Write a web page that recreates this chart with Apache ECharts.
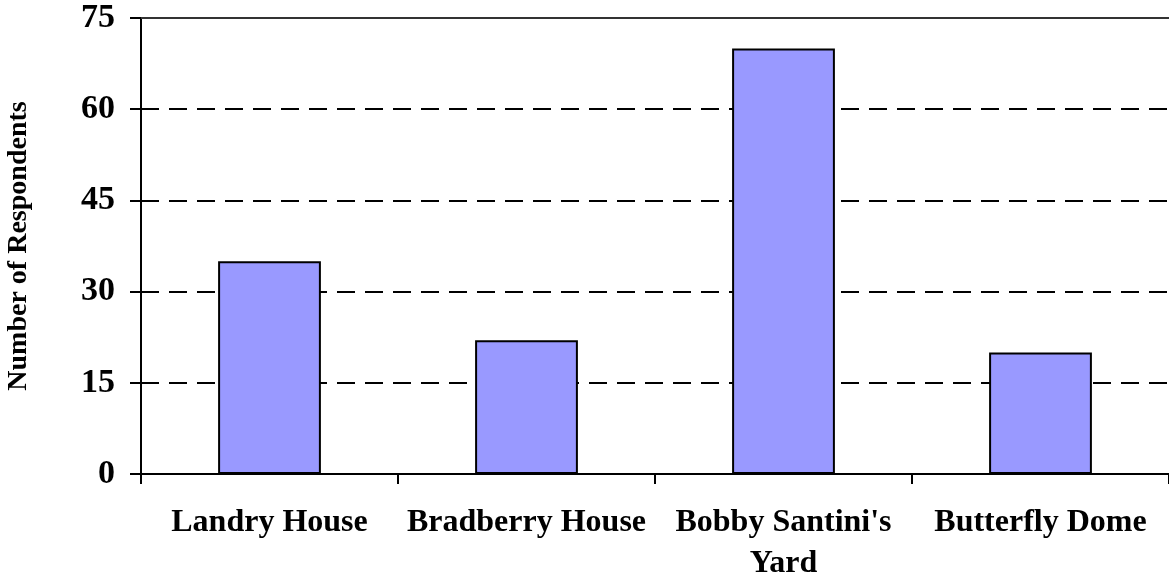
<!DOCTYPE html>
<html>
<head>
<meta charset="utf-8">
<script src="https://cdn.jsdelivr.net/npm/echarts@6/dist/echarts.min.js"></script>
<style>
  html, body { margin: 0; padding: 0; background: #fff; }
  #chart { width: 1169px; height: 582px; }
</style>
</head>
<body>
<div id="chart"></div>
<script>
// data
const categories = ["Landry House", "Bradberry House", "Bobby Santini's\nYard", "Butterfly Dome"];
const respondents = [35, 22, 70, 20];
const yTicks = [0, 15, 30, 45, 60, 75];

const serif = '"Liberation Serif", "Times New Roman", serif';

const myChart = echarts.init(document.getElementById("chart"));
const options = {
  backgroundColor: "#ffffff",
  animation: false,
  grid: {
    left: 141,
    right: 0,
    top: 18,
    bottom: 108,
    containLabel: false,
    outerBoundsMode: "none",
  },
  xAxis: [
    {
      type: "category",
      data: categories,
      axisLine: { lineStyle: { color: "#000", width: 2 } },
      axisTick: { show: true, length: 10, lineStyle: { color: "#000", width: 2 } },
      axisLabel: {
        margin: 28,
        color: "#000",
        fontFamily: serif,
        fontWeight: "bold",
        fontSize: 32,
        lineHeight: 41,
        interval: 0,
      },
    },
    {
      // top edge of the plot
      type: "category",
      position: "top",
      data: categories,
      axisLine: { show: true, lineStyle: { color: "#333", width: 2 } },
      axisTick: { show: false },
      axisLabel: { show: false },
    },
  ],
  yAxis: {
    type: "value",
    min: yTicks[0],
    max: yTicks[yTicks.length - 1],
    interval: 15,
    name: "Number of Respondents",
    nameLocation: "middle",
    nameGap: 108,
    nameTextStyle: {
      color: "#000",
      fontFamily: serif,
      fontWeight: "bold",
      fontSize: 28,
    },
    axisLine: { show: true, lineStyle: { color: "#000", width: 2 } },
    axisTick: { show: true, length: 11, lineStyle: { color: "#000", width: 2 } },
    axisLabel: {
      margin: 26,
      color: "#000",
      fontFamily: serif,
      fontWeight: "bold",
      fontSize: 34,
    },
    splitLine: {
      lineStyle: { color: "#000", width: 2, type: [18, 10] },
    },
  },
  series: [
    {
      name: "Respondents",
      type: "bar",
      data: respondents,
      barWidth: "40%",
      itemStyle: {
        color: "#9999ff",
        borderColor: "#000",
        borderWidth: 2,
      },
    },
  ],
};
myChart.setOption(options, true);
</script>
</body>
</html>
